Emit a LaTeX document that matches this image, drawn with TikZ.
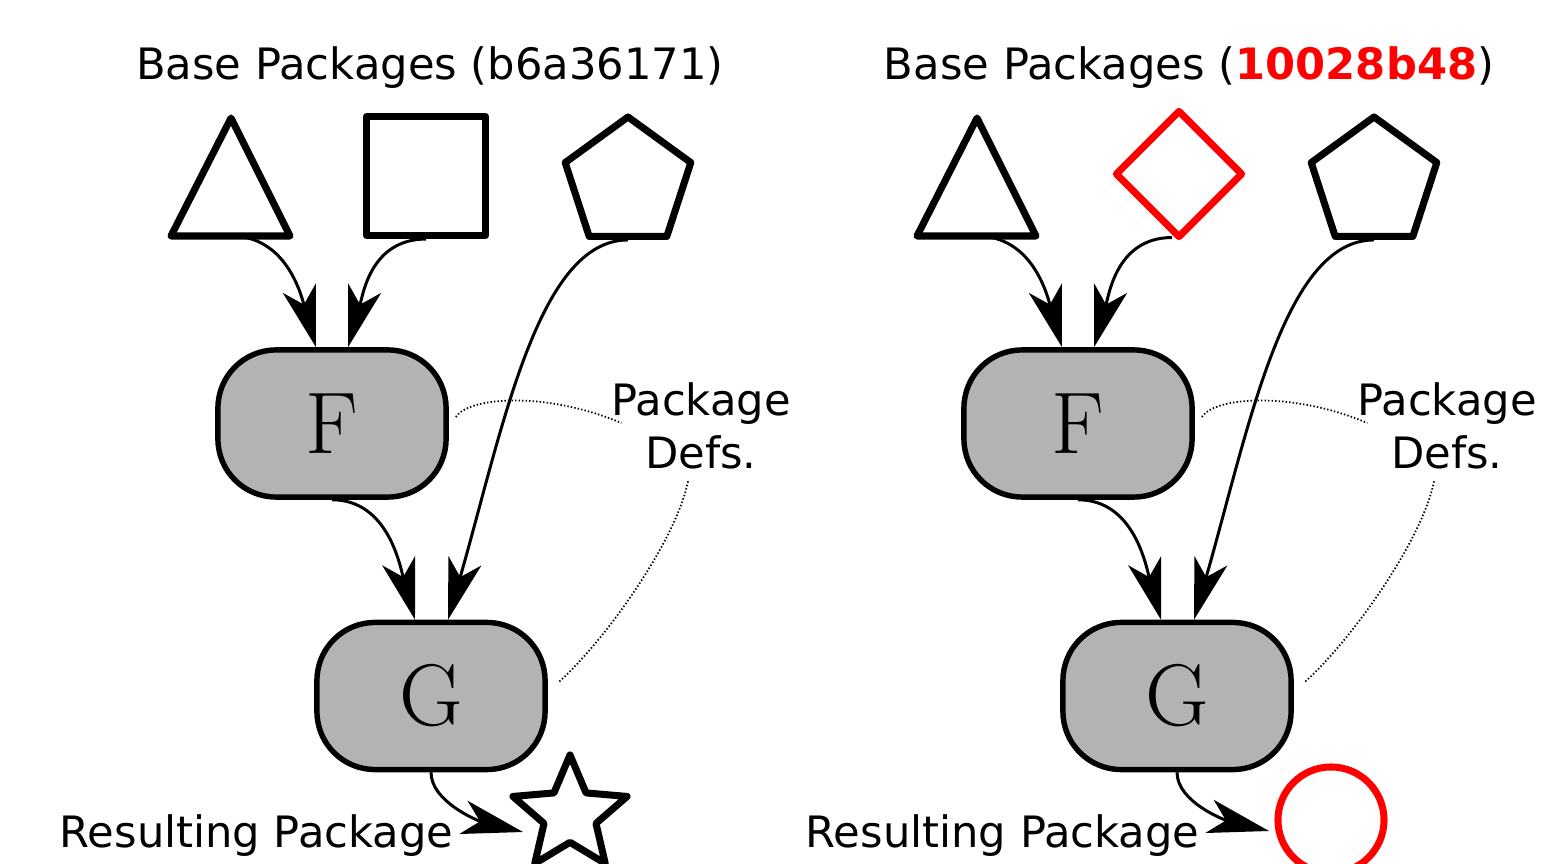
\documentclass[tikz,border=0pt]{standalone}
\usepackage{fontspec}
\usetikzlibrary{arrows.meta,shapes.geometric,calc}
\newfontfamily\dejavu{DejaVu Sans}
\definecolor{boxgray}{RGB}{179,179,179}
\definecolor{pkred}{RGB}{255,0,0}
\begin{document}
\begin{tikzpicture}[x=0.01cm,y=0.01cm,
  shp/.style={draw, line width=2pt, line join=round, fill=white, inner sep=0pt},
  conn/.style={line width=0.85pt, -{Stealth[length=17.4pt,width=9.7pt,inset=4.8pt]}},
  dots/.style={line width=0.5pt, dash pattern=on 0.4pt off 0.6pt},
  pkg/.style={draw, line width=1.55pt, fill=boxgray, rounded corners=0.58cm,
    minimum width=2.28cm, minimum height=1.47cm, inner sep=0pt,
    font=\fontsize{24.9}{30}\selectfont},
  lbl/.style={font=\dejavu\fontsize{12.3}{15}\selectfont, inner sep=0pt, anchor=base}]
\path[use as bounding box] (0,0) rectangle (1545,-864);

% ---------- left half ----------
\node[lbl] (B1) at (430,-80) {Base Packages (b6a36171)};
\draw[shp] (231,-118) -- (290,-236) -- (171,-236) -- cycle;
\coordinate (T1) at (231,-236);
\node[shp, rectangle, minimum size=1.19cm] (Q1) at (426,-176) {};
\node[shp, regular polygon, regular polygon sides=5, minimum size=1.32cm] (P1) at (628,-183) {};
\node[pkg] (F1) at (332,-423.5) {F};
\node[pkg] (G1) at (431,-696) {G};
\node[shp, star, star points=5, star point ratio=2.2, minimum size=1.2cm] (S1) at (570,-815) {};
\node[lbl] (Pk1) at (701,-416) {Package};
\node[lbl] (Df1) at (701,-469) {Defs.};
\node[lbl] (R1) at (256.5,-847) {Resulting Package};

\draw[conn] (T1) .. controls +(55,0) and +(-15,53) .. ([xshift=-0.16cm]F1.north);
\draw[conn] (Q1.south) .. controls +(-55,0) and +(15,53) .. ([xshift=0.16cm]F1.north);
\draw[conn] (F1.south) .. controls +(56,0) and +(-15,54) .. ([xshift=-0.16cm]G1.north);
\draw[conn] (P1.south) .. controls +(-90,0) and +(55,192) .. ([xshift=0.17cm]G1.north);
\draw[conn] (G1.south) .. controls +(0,-30) and +(-43.5,10.7) .. ([shift={(-47,-17)}]S1.center);
\draw[dots] ([shift={(7,6.5)}]F1.east) .. controls +(14,21) and +(-73,31) .. ([shift={(10.7,-7)}]Pk1.base west);
\draw[dots] ([shift={(-13,-11)}]Df1.south) .. controls +(-12,-60) and +(45,40) .. ([shift={(11,14)}]G1.east);

% ---------- right half ----------
\node[lbl] (B2) at (1189,-80) {Base Packages (\textcolor{pkred}{\bfseries 10028b48})};
\draw[shp] (977,-118) -- (1036,-236) -- (917,-236) -- cycle;
\coordinate (T2) at (977,-236);
\node[shp, draw=pkred, diamond, minimum width=1.28cm, minimum height=1.28cm] (D2) at (1179,-174) {};
\node[shp, regular polygon, regular polygon sides=5, minimum size=1.32cm] (P2) at (1374,-183) {};
\node[pkg] (F2) at (1078,-423.5) {F};
\node[pkg] (G2) at (1177,-696) {G};
\node[shp, draw=pkred, circle, minimum size=1.06cm] (C2) at (1331,-820) {};
\node[lbl] (Pk2) at (1447,-416) {Package};
\node[lbl] (Df2) at (1447,-469) {Defs.};
\node[lbl] (R2) at (1002.5,-847) {Resulting Package};

\draw[conn] (T2) .. controls +(55,0) and +(-15,53) .. ([xshift=-0.16cm]F2.north);
\draw[conn] ([shift={(-7,4)}]D2.south) .. controls +(-55,0) and +(15,53) .. ([xshift=0.16cm]F2.north);
\draw[conn] (F2.south) .. controls +(56,0) and +(-15,54) .. ([xshift=-0.16cm]G2.north);
\draw[conn] (P2.south) .. controls +(-90,0) and +(55,192) .. ([xshift=0.17cm]G2.north);
\draw[conn] (G2.south) .. controls +(0,-30) and +(-43.5,10.7) .. ([shift={(-62,-11)}]C2.center);
\draw[dots] ([shift={(7,6.5)}]F2.east) .. controls +(14,21) and +(-73,31) .. ([shift={(10.7,-7)}]Pk2.base west);
\draw[dots] ([shift={(-13,-11)}]Df2.south) .. controls +(-12,-60) and +(45,40) .. ([shift={(11,14)}]G2.east);
\end{tikzpicture}
\end{document}
